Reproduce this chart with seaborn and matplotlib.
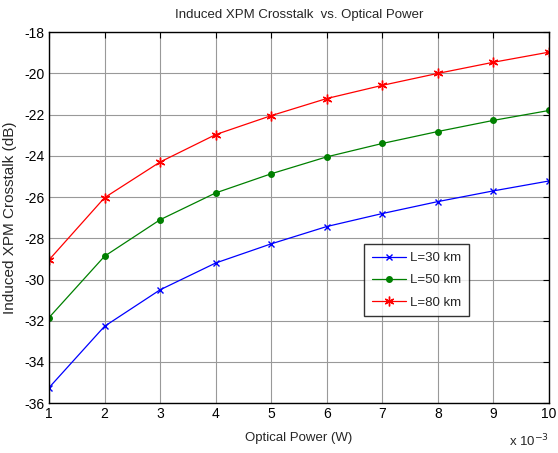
import numpy as np
import pandas as pd
import seaborn as sns
import matplotlib
matplotlib.use("Agg")
import matplotlib.pyplot as plt
from matplotlib.ticker import FuncFormatter

# optical power in W
power = [0.001, 0.002, 0.003, 0.004, 0.005, 0.006, 0.007, 0.008, 0.009, 0.010]
xpm_30km = [-35.25, -32.27, -30.5, -29.2, -28.27, -27.43, -26.8, -26.22, -25.7, -25.22]
xpm_50km = [-31.85, -28.87, -27.1, -25.8, -24.87, -24.05, -23.4, -22.82, -22.28, -21.8]
xpm_80km = [-29.05, -26.03, -24.3, -22.97, -22.05, -21.22, -20.58, -20.0, -19.46, -18.97]
labels = ["L=30 km", "L=50 km", "L=80 km"]

sns.set_style("white")
plt.rcParams['font.family'] = ['Liberation Sans', 'DejaVu Sans']
plt.rcParams['axes.unicode_minus'] = False

fig = plt.figure(figsize=(5.58, 4.53), dpi=100)
ax = fig.add_axes([0.0878, 0.110, 0.896, 0.819])

series = [xpm_30km, xpm_50km, xpm_80km]
colors = ["#0000ff", "#008000", "#ff0000"]
marks = ["x", "o", (6, 2, 0)]
sizes = [5, 4, 7]
for vals, lab, c, m, ms in zip(series, labels, colors, marks, sizes):
    sns.lineplot(x=power, y=vals, color=c, marker=m, markersize=ms,
                 markeredgewidth=1.0, markeredgecolor=c, linewidth=0.9,
                 label=lab, ax=ax)

ax.set_xlim(0.001, 0.010)
ax.set_ylim(-36, -18)
ax.set_xticks(power)
ax.set_yticks(np.arange(-36, -17, 2))
ax.xaxis.set_major_formatter(FuncFormatter(lambda v, p: f"{v * 1e3:.0f}"))
ax.tick_params(direction="in", top=True, right=True, length=4,
               labelsize=10, colors="black", width=0.8, pad=3)
ax.grid(True, color="#999999", linewidth=0.8)
for sp in ax.spines.values():
    sp.set_color("black")
    sp.set_linewidth(1.0)

ax.set_title("Induced XPM Crosstalk  vs. Optical Power", fontsize=9.5,
             pad=10)
ax.set_xlabel("Optical Power (W)", fontsize=9.5, labelpad=8)
ax.set_ylabel("Induced XPM Crosstalk (dB)", fontsize=11)
ax.yaxis.set_label_coords(-0.064, 0.5)
ax.text(1.0, -0.103, r"x 10$^{-3}$", transform=ax.transAxes,
        ha="right", va="center", fontsize=9.5)

leg = ax.legend(loc="upper left", bbox_to_anchor=(0.63, 0.4286), title=None,
                fontsize=9.5, frameon=True, fancybox=False, borderpad=0.6,
                handlelength=2.6, handletextpad=0.3, labelspacing=0.75,
                borderaxespad=0)
leg.get_frame().set_edgecolor("black")
leg.get_frame().set_linewidth(1.0)

fig.savefig("out.png", dpi=100)
